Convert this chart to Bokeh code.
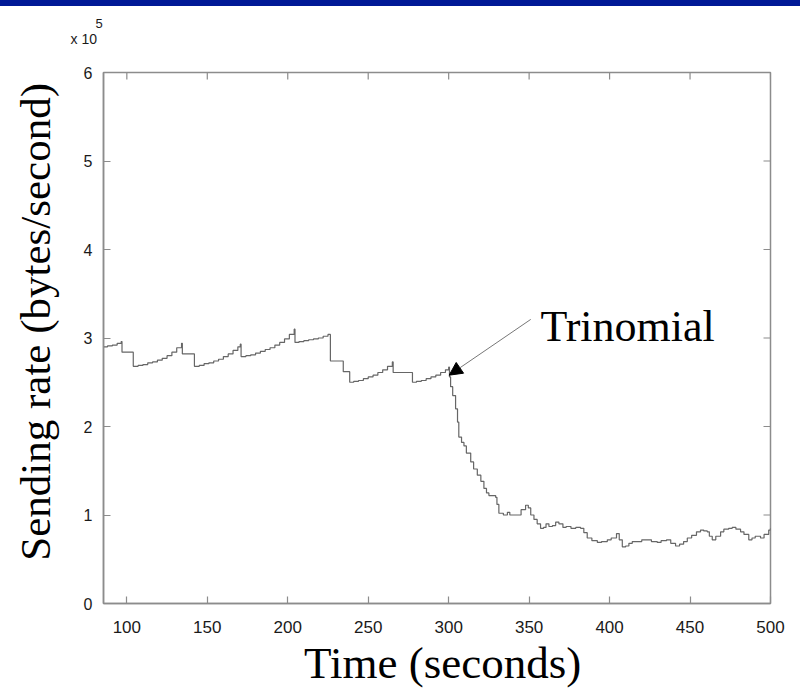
from bokeh.plotting import figure
from bokeh.models import Range1d, FixedTicker, Arrow, NormalHead, Label, Title
from bokeh.embed import file_html
from bokeh.resources import INLINE

# ---- data (rate in units of 1e5 bytes/second) ----
time_s = [
    85.5, 88, 91, 94, 96.5, 97, 104,
    107, 110, 113, 116, 119, 122, 125, 128, 131, 134, 134.5, 142,
    145, 148, 151, 154, 157, 160, 163, 166, 169, 170.5, 171,
    174, 177, 180, 183, 186, 189, 192, 195, 198, 201, 204, 204.5,
    207, 210, 213, 216, 219, 222, 225, 226.5, 234.5, 238.5,
    241, 244, 247, 250, 253, 256, 259, 262, 265, 265.5, 277.5,
    280, 283, 286, 289, 292, 295, 298, 300, 300.5,
    301.2, 302.5, 304.3, 305.5, 306.3, 308, 309.5, 311, 313.7, 315.5,
    317.8, 320, 321.9, 323.5, 325, 327, 329.2, 330, 331.2, 334,
    336.5, 338, 342.7, 345, 347.8, 349.5, 351, 353, 355, 357.1,
    359, 360.5, 362.3, 364.5, 366.5, 368.5, 371, 373, 376, 379,
    382, 384, 386.1, 389, 392.4, 395, 398.6, 401, 404.3, 406,
    407.9, 410, 412, 414.1, 417, 420, 423.4, 426, 429.6, 432,
    435.4, 438, 441, 443.5, 446, 448.3, 451, 454, 456.5, 458.5,
    460.7, 462, 463.8, 466, 469, 471, 474, 476.2, 478.5, 481.4,
    483.5, 486.5, 488.5, 490.5, 493.8, 496, 498.9, 500,
]
rate_1e5 = [
    2.90, 2.91, 2.92, 2.94, 2.96, 2.84, 2.68,
    2.69, 2.70, 2.72, 2.73, 2.75, 2.77, 2.80, 2.84, 2.89, 2.94, 2.82, 2.68,
    2.69, 2.71, 2.72, 2.74, 2.76, 2.79, 2.82, 2.86, 2.90, 2.93, 2.79,
    2.80, 2.81, 2.83, 2.85, 2.87, 2.89, 2.92, 2.95, 2.99, 3.04, 3.10, 2.95,
    2.96, 2.97, 2.98, 2.99, 3.00, 3.02, 3.04, 2.74, 2.62, 2.50,
    2.51, 2.52, 2.54, 2.56, 2.58, 2.61, 2.64, 2.68, 2.73, 2.61, 2.50,
    2.51, 2.52, 2.54, 2.56, 2.58, 2.61, 2.64, 2.67, 2.56,
    2.45, 2.35, 2.20, 2.05, 1.88, 1.82, 1.78, 1.70, 1.60, 1.52,
    1.45, 1.38, 1.30, 1.25, 1.22, 1.22, 1.20, 1.12, 1.02, 1.00,
    1.03, 1.00, 1.00, 1.06, 1.11, 1.08, 1.00, 0.95, 0.90, 0.85,
    0.86, 0.90, 0.87, 0.88, 0.92, 0.90, 0.86, 0.87, 0.85, 0.86,
    0.85, 0.80, 0.74, 0.71, 0.69, 0.70, 0.72, 0.74, 0.79, 0.72,
    0.64, 0.65, 0.68, 0.70, 0.70, 0.72, 0.72, 0.70, 0.69, 0.71,
    0.72, 0.68, 0.65, 0.67, 0.70, 0.74, 0.77, 0.81, 0.83, 0.82,
    0.81, 0.76, 0.72, 0.76, 0.81, 0.84, 0.85, 0.86, 0.84, 0.81,
    0.78, 0.72, 0.74, 0.76, 0.74, 0.78, 0.83, 0.85,
]
assert len(time_s) == len(rate_1e5)

x_ticks = [100, 150, 200, 250, 300, 350, 400, 450, 500]
y_ticks = [0, 1, 2, 3, 4, 5, 6]
x_label = "Time (seconds)"
y_label = "Sending rate (bytes/second)"
exponent_text = "x 10"
exponent_power = "5"
annotation_text = "Trinomial"
arrow_from = (351, 3.21)
arrow_to = (300.3, 2.58)
text_pos = (357, 3.13)

X0, X1, Y0, Y1 = 85.5, 500, 0, 6
SERIF = "Liberation Serif"
SANS = "Liberation Sans"
AX = "#8c8c8c"
NBSP = "\u00a0"

FIG_W, FIG_H = 800, 690
FRAME_W, FRAME_H = 667, 534
BL, BT = 103, 72
BR = FIG_W - BL - FRAME_W
BB = FIG_H - BT - FRAME_H

p = figure(width=FIG_W, height=FIG_H, x_range=Range1d(X0, X1), y_range=Range1d(Y0, Y1),
           output_backend="svg", toolbar_location=None, title=None,
           min_border_left=BL, min_border_right=BR,
           min_border_top=BT, min_border_bottom=BB,
           x_axis_label=NBSP + x_label, y_axis_label=NBSP * 3 + y_label)
p.grid.visible = False
p.outline_line_color = AX
p.outline_line_width = 1.5
p.background_fill_color = "white"
p.border_fill_color = None
# dark blue header band across the top of the page
p.styles = {"background": "linear-gradient(to bottom, #001996 0px, #001996 6px, #ffffff 6px, #ffffff 100%)"}

for ax in p.xaxis:
    ax.ticker = FixedTicker(ticks=x_ticks)
for ax in p.yaxis:
    ax.ticker = FixedTicker(ticks=y_ticks)
for ax in p.xaxis + p.yaxis:
    ax.axis_line_color = AX
    ax.axis_line_width = 1.5
    ax.major_tick_line_color = AX
    ax.major_tick_line_width = 1.2
    ax.major_tick_in = 7
    ax.major_tick_out = 0
    ax.minor_tick_line_color = None
    ax.major_label_text_font = SANS
    ax.major_label_text_color = "#1a1a1a"
    ax.axis_label_text_font = SERIF
    ax.axis_label_text_font_style = "normal"
    ax.axis_label_text_color = "black"

p.xaxis.major_label_text_font_size = "17px"
p.xaxis.major_label_standoff = 17
p.xaxis.axis_label_text_font_size = "45px"
p.xaxis.axis_label_standoff = 2

p.yaxis.major_label_text_font_size = "16px"
p.yaxis.major_label_standoff = 11
p.yaxis.axis_label_text_font_size = "43px"
p.yaxis.axis_label_standoff = 22

# inward ticks on the top and right edges of the box (7 px long)
dy = 7 * (Y1 - Y0) / FRAME_H
dx = 7 * (X1 - X0) / FRAME_W
p.segment(x0=x_ticks, y0=[Y1] * len(x_ticks), x1=x_ticks, y1=[Y1 - dy] * len(x_ticks),
          line_color=AX, line_width=1.2)
p.segment(x0=[X1] * len(y_ticks), y0=y_ticks, x1=[X1 - dx] * len(y_ticks), y1=y_ticks,
          line_color=AX, line_width=1.2)

p.step(time_s, rate_1e5, mode="after", line_color="#666666", line_width=1.2)

p.add_layout(Arrow(end=NormalHead(size=13, fill_color="black", line_color="black"),
                   x_start=arrow_from[0], y_start=arrow_from[1],
                   x_end=arrow_to[0], y_end=arrow_to[1],
                   line_color="#777777", line_width=1))
p.add_layout(Label(x=text_pos[0], y=text_pos[1], text=annotation_text,
                   text_font=SERIF, text_font_size="44px", text_color="black",
                   text_align="left", text_baseline="middle"))

# exponent marker above the y axis: "x 10" with a raised "5"
p.add_layout(Title(text=exponent_text, text_font=SANS, text_font_size="14px",
                   text_font_style="normal", text_color="#1a1a1a",
                   align="left", offset=-33, standoff=52), "above")
p.add_layout(Title(text=exponent_power, text_font=SANS, text_font_size="13px",
                   text_font_style="normal", text_color="#1a1a1a",
                   align="left", offset=-8, standoff=-50), "above")

open("out.html", "w").write(file_html(p, INLINE))
